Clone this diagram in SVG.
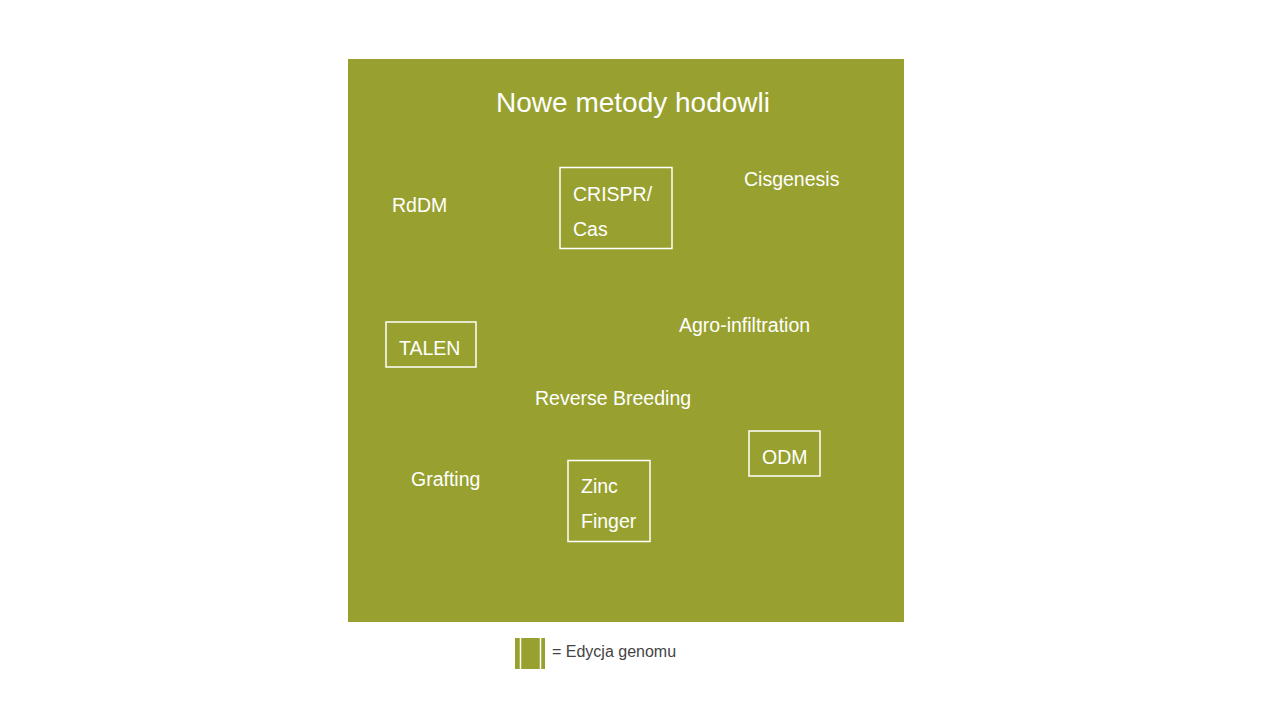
<svg xmlns="http://www.w3.org/2000/svg" width="1280" height="720" viewBox="0 0 1280 720">
<style>
.t{font-family:"Liberation Sans",Arial,sans-serif;fill:#ffffff;font-size:19.5px}
.box{fill:none;stroke:#ffffff;stroke-width:1.5}
</style>
<rect width="1280" height="720" fill="#ffffff"/>
<rect x="348" y="59" width="556" height="563" fill="#98a12f"/>
<text x="633" y="112" text-anchor="middle" style="font-family:'Liberation Sans',Arial,sans-serif;fill:#fff;font-size:28px">Nowe metody hodowli</text>
<g id="rddm"><text class="t" x="392" y="212">RdDM</text></g>
<g id="crispr"><rect class="box" x="560" y="167.5" width="112" height="81"/><text class="t" x="573" y="201">CRISPR/</text><text class="t" x="573" y="236">Cas</text></g>
<g id="cisgenesis"><text class="t" x="744" y="186">Cisgenesis</text></g>
<g id="talen"><rect class="box" x="386" y="322" width="90" height="45"/><text class="t" x="399" y="355">TALEN</text></g>
<g id="agro"><text class="t" x="679" y="332">Agro-infiltration</text></g>
<g id="reverse"><text class="t" x="535" y="405">Reverse Breeding</text></g>
<g id="odm"><rect class="box" x="749" y="431" width="71" height="45"/><text class="t" x="762" y="464">ODM</text></g>
<g id="grafting"><text class="t" x="411" y="486">Grafting</text></g>
<g id="zinc"><rect class="box" x="568" y="460.5" width="82" height="81"/><text class="t" x="581" y="493">Zinc</text><text class="t" x="581" y="528">Finger</text></g>
<g id="connectors"></g>
<g id="legend">
<rect x="515" y="638" width="30" height="31" fill="#98a12f"/>
<line x1="520.5" y1="638" x2="520.5" y2="669" stroke="#fff" stroke-width="1.5"/>
<line x1="540.5" y1="638" x2="540.5" y2="669" stroke="#fff" stroke-width="1.5"/>
<text x="552" y="657" style="font-family:'Liberation Sans',Arial,sans-serif;fill:#444;font-size:16px">= Edycja genomu</text>
</g>
</svg>
